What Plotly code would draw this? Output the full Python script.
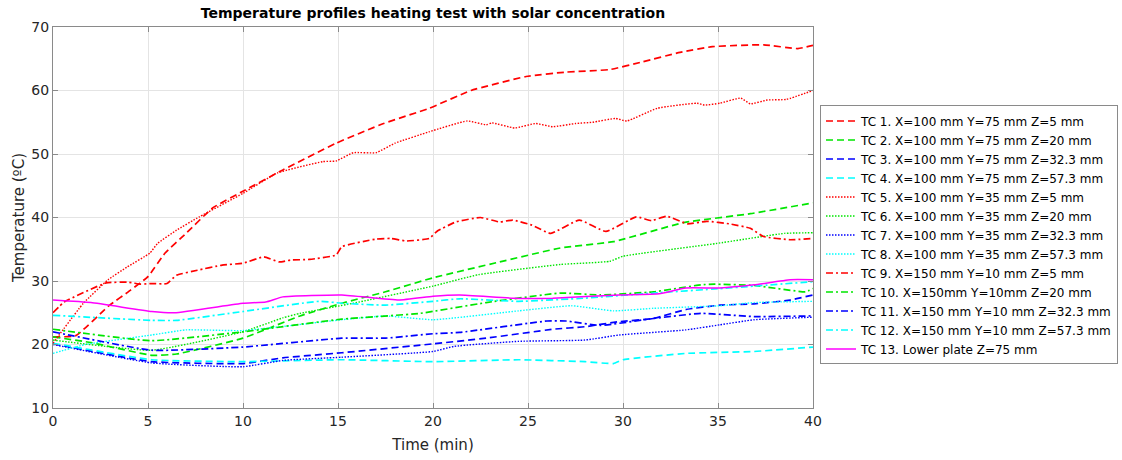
import plotly.graph_objects as go

# ---------------- data ----------------
t1 = [0, 1.2, 2.9, 4.1, 5.0, 5.9, 7.0, 8.4, 10.1, 12.1, 14.9, 17.4, 19.8, 22, 24.9, 27, 29.3, 31, 33, 34.7, 37.4, 39.2, 40]
y1 = [21.2, 21.4, 26.0, 28.6, 30.7, 34.4, 37.5, 41.5, 44.3, 47.5, 51.7, 54.8, 57.2, 60, 62.2, 62.9, 63.3, 64.5, 66, 66.9, 67.2, 66.6, 67.1]

t2 = [0, 2, 5.2, 6.5, 10, 13, 15.2, 17.5, 20, 23.5, 26.7, 29.5, 33.2, 36.7, 40]
y2 = [21.2, 20.3, 18.3, 18.5, 21.0, 24.5, 26.5, 28.3, 30.5, 33.0, 35.2, 36.2, 39.2, 40.6, 42.3]

t3 = [0, 5.2, 10, 12.1, 15.2, 20, 22.8, 26.3, 28, 29.8, 31.6, 33.3, 35.1, 36.9, 38.8, 40]
y3 = [20.1, 17.3, 17.0, 17.9, 18.7, 20.1, 21.0, 22.4, 22.8, 23.6, 24.1, 25.5, 26.2, 26.4, 27.0, 27.8]

t4 = [0, 5.2, 10, 15.2, 20, 24.5, 28, 29.5, 30, 33.3, 36.9, 40]
y4 = [20.2, 17.6, 17.3, 17.6, 17.3, 17.6, 17.3, 17.0, 17.6, 18.6, 18.9, 19.6]

t5 = [0, 1.6, 2.9, 3.9, 5.1, 5.5, 6.5, 7.7, 10, 11.8, 14.2, 14.9, 15.8, 17, 18, 19.8, 21.8, 22.8, 23.1, 24.3,
      25.4, 26.3, 27.5, 28.4, 29.6, 30.2, 31.8, 33.9, 34.3, 35.1, 36.2, 36.7, 37.6, 38.6, 40]
y5 = [20.2, 26.5, 30.2, 32.2, 34.4, 35.9, 38.0, 40.1, 43.8, 47.0, 48.8, 48.9, 50.2, 50.2, 51.7, 53.5, 55.2, 54.6, 54.9, 54.1,
      54.8, 54.3, 54.8, 55.0, 55.6, 55.2, 57.2, 58.0, 57.7, 58.0, 58.8, 57.9, 58.5, 58.6, 60.0]

t6 = [0, 5.2, 10, 12.1, 13, 15.8, 20, 22.4, 26.7, 29.3, 30, 34.9, 38.5, 40]
y6 = [20.7, 19.1, 22.0, 24.2, 24.9, 26.5, 29.2, 31.0, 32.6, 33.1, 33.9, 35.9, 37.5, 37.6]

t7 = [0, 5.2, 10, 12.1, 15.2, 20, 21.1, 24.5, 28, 29.8, 33.3, 35.1, 36.9, 40]
y7 = [20.0, 17.1, 16.5, 17.5, 18.0, 18.9, 19.7, 20.5, 20.7, 21.5, 22.3, 23.1, 23.9, 24.3]

t8 = [0, 1.7, 5.2, 7, 10, 15.2, 17.5, 20, 24.5, 27.3, 29.5, 31.6, 35.1, 36.9, 40]
y8 = [18.6, 20.0, 21.5, 22.3, 22.2, 23.9, 24.5, 23.9, 25.3, 26.1, 25.3, 25.7, 26.1, 26.6, 26.8]

t9 = [0, 0.6, 2.8, 4.0, 4.6, 5.2, 6.0, 6.5, 7.6, 8.9, 10, 11.1, 11.9, 12.5, 13.5, 14.9, 15.2, 17, 17.8, 18.6,
      19.8, 20.2, 21.2, 22.5, 23.5, 24.2, 25.2, 26.2, 27.7, 29.1, 30.7, 31.5, 32.3, 33.4, 34.4, 35.6, 36.7, 37.4, 38.8, 40]
y9 = [25.0, 26.7, 29.7, 29.8, 29.5, 29.6, 29.6, 30.9, 31.7, 32.5, 32.8, 33.8, 33.0, 33.3, 33.4, 34.1, 35.4, 36.6, 36.7, 36.3,
      36.7, 37.8, 39.3, 40.0, 39.3, 39.6, 38.8, 37.5, 39.6, 37.8, 40.1, 39.5, 40.2, 39.0, 39.4, 39.0, 38.3, 37.0, 36.5, 36.7]

t10 = [0, 5.2, 10, 15.2, 19.3, 22.8, 26.7, 28.8, 31.6, 34.1, 34.8, 36.9, 39.6, 40]
y10 = [22.4, 20.6, 22.0, 24.0, 24.9, 26.6, 28.1, 27.8, 28.3, 29.4, 29.5, 29.3, 28.3, 28.8]

t11 = [0, 5.2, 10, 15.2, 17.5, 20, 21.4, 26, 27, 28.8, 31.6, 34.1, 36.9, 40]
y11 = [22.0, 19.1, 19.6, 21.0, 21.0, 21.7, 21.9, 23.7, 23.7, 23.0, 24.1, 24.9, 24.4, 24.5]

t12 = [0, 5.2, 6.5, 10, 14, 15.2, 17.5, 20, 21.4, 24.5, 28, 31.6, 35.1, 36.9, 40]
y12 = [24.6, 23.8, 23.8, 25.2, 26.8, 26.5, 26.2, 26.8, 27.2, 26.8, 27.3, 28.1, 28.8, 29.2, 29.9]

t13 = [0, 2, 5.2, 6.4, 10, 11.2, 12.1, 15.2, 18.2, 20, 21.4, 24.2, 26.3, 29.8, 31.9, 33.3, 35.1, 36.9, 38.8, 40]
y13 = [27.0, 26.6, 25.2, 25.0, 26.5, 26.7, 27.5, 27.8, 27.0, 27.6, 27.8, 27.3, 27.3, 27.8, 28.0, 28.9, 28.9, 29.4, 30.2, 30.2]

names = [
    "TC 1. X=100 mm Y=75 mm Z=5 mm",
    "TC 2. X=100 mm Y=75 mm Z=20 mm",
    "TC 3. X=100 mm Y=75 mm Z=32.3 mm",
    "TC 4. X=100 mm Y=75 mm Z=57.3 mm",
    "TC 5. X=100 mm Y=35 mm Z=5 mm",
    "TC 6. X=100 mm Y=35 mm Z=20 mm",
    "TC 7. X=100 mm Y=35 mm Z=32.3 mm",
    "TC 8. X=100 mm Y=35 mm Z=57.3 mm",
    "TC 9. X=150 mm Y=10 mm Z=5 mm",
    "TC 10. X=150mm Y=10mm Z=20 mm",
    "TC 11. X=150 mm Y=10 mm Z=32.3 mm",
    "TC 12. X=150 mm Y=10 mm Z=57.3 mm",
    "TC 13. Lower plate Z=75 mm",
]
times = [t1, t2, t3, t4, t5, t6, t7, t8, t9, t10, t11, t12, t13]
temps = [y1, y2, y3, y4, y5, y6, y7, y8, y9, y10, y11, y12, y13]

# ---------------- styles ----------------
cols = ["#ff0000", "#00e600", "#0000ff", "#00ffff"]
colors = cols + cols + cols + ["#ff00ff"]
DASH = "7px,4px"
DOT = "1.5px,1.5px"
DASHDOT = "7px,3px,2px,3px"
dashes = [DASH] * 4 + [DOT] * 4 + [DASHDOT] * 4 + ["solid"]
widths = [1.7] * 4 + [1.4] * 4 + [1.7] * 4 + [1.5]

FONT = "DejaVu Sans, Verdana, sans-serif"
TXT = "#262626"

fig = go.Figure()
for n, tx, ty, c, d, w in zip(names, times, temps, colors, dashes, widths):
    fig.add_trace(go.Scatter(x=tx, y=ty, mode="lines", name=n,
                             line=dict(color=c, dash=d, width=w, shape="spline", smoothing=0.4)))

axis_common = dict(showline=True, linecolor="#8a8a8a", linewidth=1, mirror="ticks",
                   ticks="inside", ticklen=5, tickcolor="#8a8a8a",
                   showgrid=True, gridcolor="#e4e4e4", gridwidth=1,
                   zeroline=False, tickfont=dict(family=FONT, size=14, color=TXT),
                   automargin=False)

fig.update_layout(
    width=1122, height=460,
    paper_bgcolor="white", plot_bgcolor="white",
    margin=dict(l=53, r=309, t=27, b=52, autoexpand=False),
    title=dict(text="<b>Temperature profiles heating test with solar concentration</b>",
               x=(53 + 813) / 2 / 1122, xanchor="center", xref="container",
               y=1 - 13 / 460, yanchor="middle",
               font=dict(family=FONT, size=14, color="#000000")),
    xaxis=dict(range=[0, 40], dtick=5, tick0=0,
               title=dict(text="Time (min)", font=dict(family=FONT, size=15, color=TXT), standoff=11),
               **axis_common),
    yaxis=dict(range=[10, 70], dtick=10, tick0=10,
               title=dict(text="Temperature (ºC)", font=dict(family=FONT, size=15, color=TXT), standoff=3),
               **axis_common),
    legend=dict(x=1118 / 1122, xref="container", y=0.794, xanchor="right", yanchor="top",
                bordercolor="#8a8a8a", borderwidth=1, bgcolor="white",
                font=dict(family=FONT, size=12, color="#000000"),
                itemwidth=30, tracegroupgap=0),
    showlegend=True,
)

fig.write_html("out.html")
